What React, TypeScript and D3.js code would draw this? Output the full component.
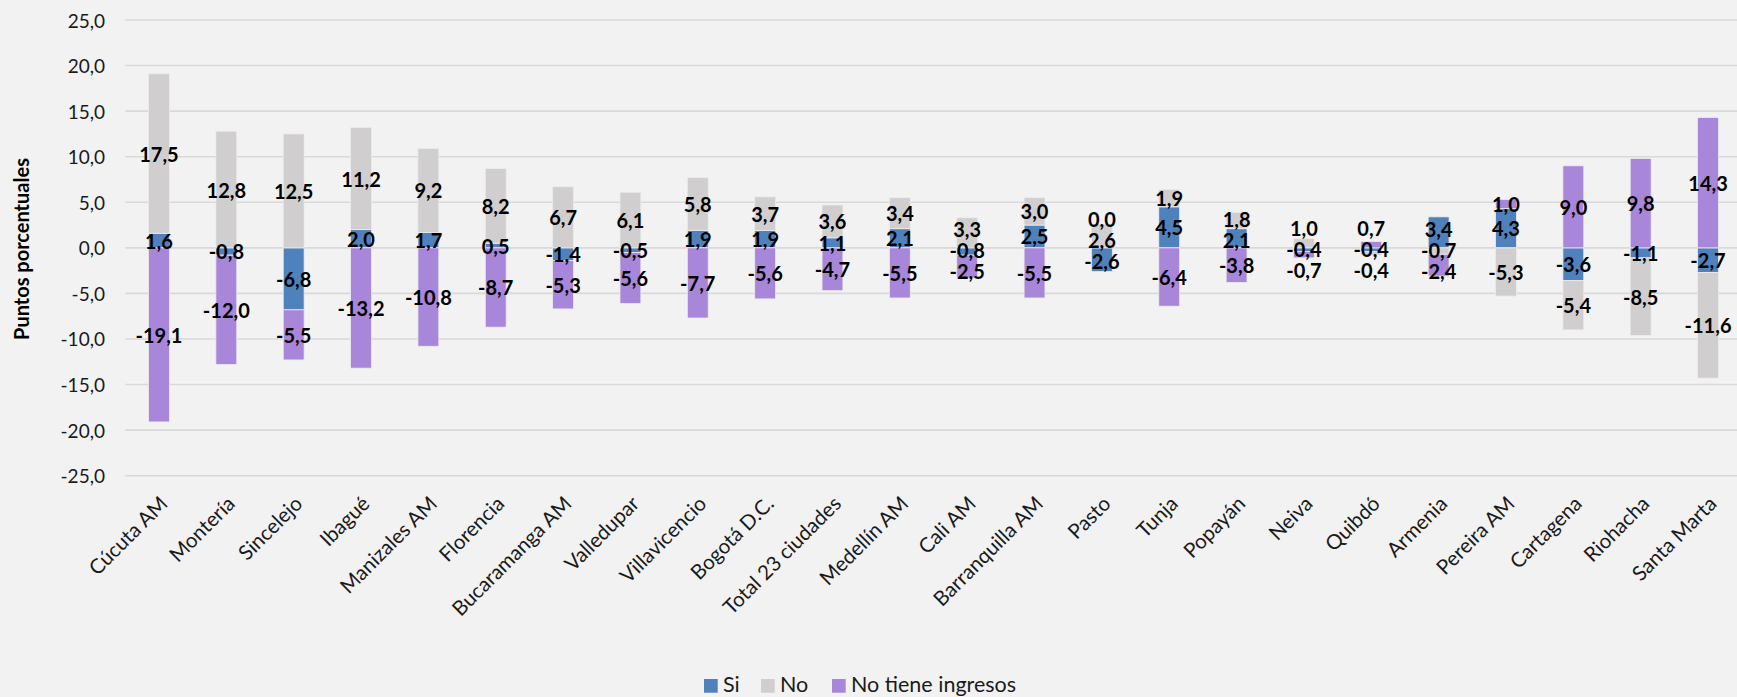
import React from "react";
import * as d3 from "d3";

const categories = [
  "Cúcuta AM", "Montería", "Sincelejo", "Ibagué", "Manizales AM", "Florencia",
  "Bucaramanga AM", "Valledupar", "Villavicencio", "Bogotá D.C.", "Total 23 ciudades",
  "Medellín AM", "Cali AM", "Barranquilla AM", "Pasto", "Tunja", "Popayán", "Neiva",
  "Quibdó", "Armenia", "Pereira AM", "Cartagena", "Riohacha", "Santa Marta",
];
const siValues = [1.6, -0.8, -6.8, 2.0, 1.7, 0.5, -1.4, -0.5, 1.9, 1.9, 1.1, 2.1, -0.8, 2.5, -2.6, 4.5, 2.1, -0.4, -0.4, 3.4, 4.3, -3.6, -1.1, -2.7];
const noValues = [17.5, 12.8, 12.5, 11.2, 9.2, 8.2, 6.7, 6.1, 5.8, 3.7, 3.6, 3.4, 3.3, 3.0, 2.6, 1.9, 1.8, 1.0, -0.4, -0.7, -5.3, -5.4, -8.5, -11.6];
const ntiValues = [-19.1, -12.0, -5.5, -13.2, -10.8, -8.7, -5.3, -5.6, -7.7, -5.6, -4.7, -5.5, -2.5, -5.5, 0.0, -6.4, -3.8, -0.7, 0.7, -2.4, 1.0, 9.0, 9.8, 14.3];
const seriesNames = ["Si", "No", "No tiene ingresos"];
const seriesColors = ["#4F81BD", "#D0CECE", "#A886D9"];
const yTicks = [25, 20, 15, 10, 5, 0, -5, -10, -15, -20, -25];
const yTitle = "Puntos porcentuales";

const W = 1737;
const H = 697;
const FONT = "Lato, 'Open Sans', 'Noto Sans', sans-serif";

const fmt = (v: number) => v.toFixed(1).replace(".", ",");

function spread(ys: number[], gap: number): number[] {
  const order = ys.map((y, i) => i).sort((a, b) => ys[a] - ys[b]);
  let clusters = order.map((i) => ({ items: [i], center: ys[i] }));
  let merged = true;
  while (merged) {
    merged = false;
    for (let k = 0; k < clusters.length - 1; k++) {
      const a = clusters[k];
      const b = clusters[k + 1];
      const aBottom = a.center + ((a.items.length - 1) * gap) / 2;
      const bTop = b.center - ((b.items.length - 1) * gap) / 2;
      if (bTop - aBottom < gap - 0.01) {
        const items = a.items.concat(b.items);
        const center = d3.mean(items, (i) => ys[i]) as number;
        clusters.splice(k, 2, { items, center });
        merged = true;
        break;
      }
    }
  }
  const out = ys.slice();
  clusters.forEach((c) => {
    const top = c.center - ((c.items.length - 1) * gap) / 2;
    c.items.forEach((i, k) => (out[i] = top + k * gap));
  });
  return out;
}

export default function App() {
  const x = d3
    .scaleBand<string>()
    .domain(categories)
    .range([125.3, 1741.7])
    .paddingInner(0.69)
    .paddingOuter(0.345);
  const y = d3.scaleLinear().domain([-25, 25]).range([475.7, 20]);
  const allSeries = [siValues, noValues, ntiValues];

  const bars: React.ReactNode[] = [];
  const labels: React.ReactNode[] = [];

  categories.forEach((cat, ci) => {
    let pos = 0;
    let neg = 0;
    const segs = allSeries.map((vals, si) => {
      const v = vals[ci];
      let y0: number, y1: number;
      if (v > 0) {
        y0 = pos; y1 = pos + v; pos += v;
      } else if (v < 0) {
        y0 = neg; y1 = neg + v; neg += v;
      } else {
        y0 = y1 = NaN;
      }
      return { si, v, y0, y1 };
    });
    segs.forEach((s) => {
      if (s.v === 0) { s.y0 = pos; s.y1 = pos; }
    });
    const bx = x(cat) as number;
    const bw = x.bandwidth();
    segs.forEach((s) => {
      if (s.v === 0) return;
      const top = y(Math.max(s.y0, s.y1));
      const bot = y(Math.min(s.y0, s.y1));
      bars.push(
        <rect key={`b-${ci}-${s.si}`} x={bx} y={top} width={bw} height={bot - top}
          fill={seriesColors[s.si]} stroke="#ECECEC" strokeWidth={0.8} />
      );
    });
    const centers = segs.map((s) => y((s.y0 + s.y1) / 2));
    const placed = spread(centers, 21);
    segs.forEach((s, k) => {
      labels.push(
        <text key={`l-${ci}-${s.si}`} x={bx + bw / 2} y={placed[k]} textAnchor="middle"
          dominantBaseline="central" fontFamily={FONT} fontWeight={700} fontSize={20} fill="#000">
          {fmt(s.v)}
        </text>
      );
    });
  });

  const legendX = [704, 761, 832];

  return (
    <svg width={W} height={H} style={{ position: "absolute", left: 0, top: 0, display: "block" }}>
      <rect x={0} y={0} width={W} height={H} fill="#F2F2F2" />
      {yTicks.map((t) => (
        <g key={`g-${t}`}>
          <line x1={125.3} x2={1741.7} y1={y(t)} y2={y(t)} stroke="#D9D9D9" strokeWidth={1.6} />
          <text x={105} y={y(t)} textAnchor="end" dominantBaseline="central"
            fontFamily={FONT} fontSize={19} fill="#1a1a1a">{fmt(t)}</text>
        </g>
      ))}
      <text transform={`translate(21,249) rotate(-90)`} textAnchor="middle" dominantBaseline="central"
        fontFamily={FONT} fontWeight={700} fontSize={20} fill="#000">{yTitle}</text>
      {bars}
      {labels}
      {categories.map((cat) => {
        const cx = (x(cat) as number) + x.bandwidth() / 2;
        return (
          <text key={`x-${cat}`} transform={`translate(${cx + 10},${505}) rotate(-45)`} textAnchor="end"
            fontFamily={FONT} fontSize={20.5} fill="#1a1a1a">{cat}</text>
        );
      })}
      {seriesNames.map((n, i) => (
        <g key={`lg-${n}`}>
          <rect x={legendX[i]} y={679} width={13.7} height={13.7} fill={seriesColors[i]} />
          <text x={legendX[i] + 19} y={692} fontFamily={FONT} fontSize={21.5} fill="#1a1a1a">{n}</text>
        </g>
      ))}
    </svg>
  );
}
